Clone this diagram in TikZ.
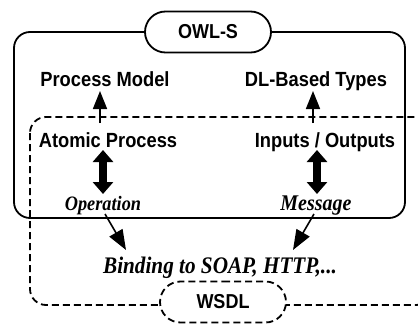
\documentclass[tikz,border=0pt]{standalone}
\usepackage{fontspec}
\usepackage{graphicx}
\setmainfont{Liberation Serif}
\setsansfont{Liberation Sans}
\usetikzlibrary{arrows.meta,shapes.misc}
\newcommand{\tallt}[1]{\scalebox{1}[1.12]{#1}}
\begin{document}
\begin{tikzpicture}[x=1pt,y=-1pt,
  sf/.style={font=\sffamily\bfseries\fontsize{18.3}{20}\selectfont, inner sep=0pt},
  it/.style={font=\rmfamily\bfseries\itshape\fontsize{18.3}{20}\selectfont, inner sep=0pt},
  itb/.style={font=\rmfamily\bfseries\itshape\fontsize{20}{22}\selectfont, inner sep=0pt},
  bigit/.style={font=\rmfamily\bfseries\itshape\fontsize{21.2}{23}\selectfont, inner sep=0pt},
  thinarrow/.style={line width=1.6pt, -{Triangle[width=14pt,length=18pt]}},
  diagarrow/.style={line width=1.6pt, -{Triangle[width=15pt,length=20pt]}},
  thickarrow/.style={line width=8.5pt, {Triangle[width=20pt,length=12pt]}-{Triangle[width=20pt,length=12pt]}},
  pill/.style={rounded rectangle, line width=1.8pt, fill=white, minimum width=126pt, minimum height=41pt, inner sep=0pt, font=\sffamily\bfseries\fontsize{18}{20}\selectfont},
  dashpat/.style={dash pattern=on 7pt off 4pt}
]
\useasboundingbox (0,0) rectangle (418,324);
\clip (0,0) rectangle (418,324);
% solid OWL-S box
\draw[line width=1.8pt, rounded corners=16pt] (14,32) rectangle (405,218);
% dashed WSDL box
\draw[line width=1.8pt, dashpat, rounded corners=16pt] (30,117) rectangle (432,305);
% pills
\node[pill, draw] (owl) at (208,32) {\tallt{OWL-S}};
\node[pill, draw, dashpat] (wsdl) at (223,302) {\tallt{WSDL}};
% texts
\node[sf, anchor=base] (pm) at (105,86) {\tallt{Process Model}};
\node[sf, anchor=base] (dl) at (316,86) {\tallt{DL-Based Types}};
\node[sf, anchor=base] (ap) at (108,147) {\tallt{Atomic Process}};
\node[sf, anchor=base] (io) at (325,147) {\tallt{Inputs / Outputs}};
\node[it, anchor=base] (op) at (103,210) {\tallt{Operation}};
\node[itb, anchor=base] (ms) at (316,210) {\tallt{Message}};
\node[bigit, anchor=base] (bd) at (220,273) {\tallt{Binding to SOAP, HTTP,...}};
% thin arrows
\draw[thinarrow] ([xshift=-8pt,yshift=24pt]ap.base) -- ([xshift=-5pt,yshift=-5pt]pm.base);
\draw[thinarrow] ([xshift=-12pt,yshift=24pt]io.base) -- ([xshift=-3pt,yshift=-5pt]dl.base);
% thick double arrows
\draw[thickarrow] ([xshift=-5pt,yshift=-3pt]ap.base) -- ([yshift=16pt]op.base);
\draw[thickarrow] ([xshift=-8pt,yshift=-3pt]io.base) -- ([xshift=1pt,yshift=16pt]ms.base);
% diagonal arrows
\draw[diagarrow] ([xshift=2pt,yshift=-4pt]op.base) -- ([xshift=-94pt,yshift=23pt]bd.base);
\draw[diagarrow] ([xshift=-2pt,yshift=-4pt]ms.base) -- ([xshift=73pt,yshift=23pt]bd.base);
\end{tikzpicture}
\end{document}
